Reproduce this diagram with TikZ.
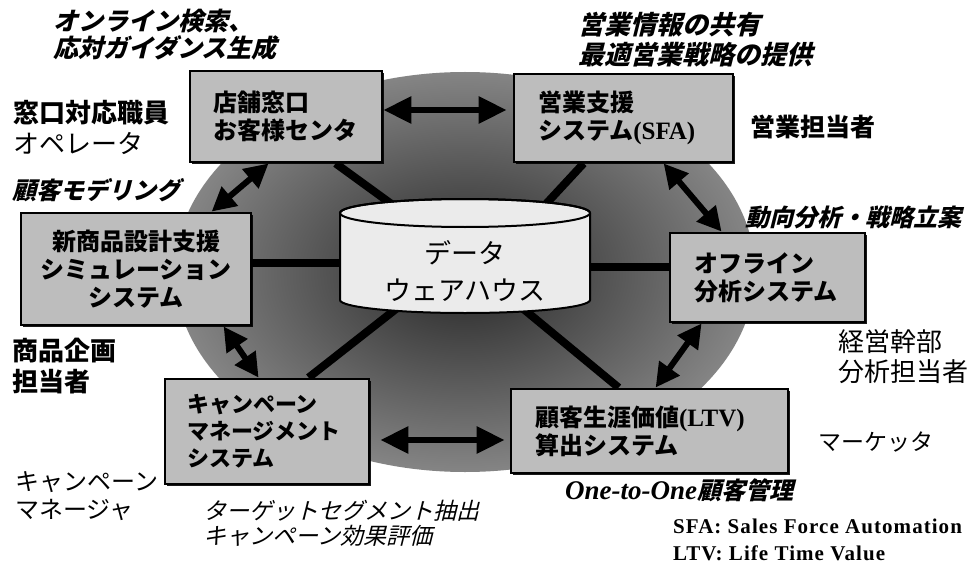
\documentclass[tikz,border=0pt]{standalone}
\usepackage{fontspec}
\usetikzlibrary{arrows.meta,shadows,calc}
\newfontfamily\jp{Noto Sans CJK JP}
\newfontfamily\jpsl{Noto Sans CJK JP}[FakeSlant=0.25]
\newfontfamily\ser{Liberation Serif}
\newfontfamily\serb{Liberation Serif}[LetterSpace=5]
\pgfdeclarelayer{bg}
\pgfdeclarelayer{mid}
\pgfsetlayers{bg,mid,main}
\begin{document}
\begin{tikzpicture}[x=1pt,y=-1pt,
  box/.style={draw=black, line width=2.8pt, fill=black!26, inner sep=0pt, text=black,
    drop shadow={shadow xshift=2pt,shadow yshift=-2pt,opacity=.9,fill=black},
    font=\jp\bfseries\fontsize{24}{28}\selectfont, align=left},
  link/.style={line width=8pt},
  biarrow/.style={line width=6pt,{Triangle[length=28pt,width=26pt]}-{Triangle[length=28pt,width=26pt]}},
  biarrowd/.style={line width=6pt,{Triangle[length=24pt,width=24pt]}-{Triangle[length=24pt,width=24pt]}},
  ann/.style={anchor=west, inner sep=0pt, align=left}]
\useasboundingbox (0,0) rectangle (971,564);
\begin{pgfonlayer}{bg}
  \fill[white] (0,0) rectangle (971,564);
  \shade[inner color=black!85, outer color=black!48] (465,272) ellipse [x radius=290pt, y radius=200pt];
\end{pgfonlayer}

% boxes
\node[box, minimum width=192pt, minimum height=91pt, text width=146pt] (b1) at (286,116.5) {店舗窓口\\お客様センタ};
\node[box, minimum width=219pt, minimum height=88pt, text width=171pt] (b2) at (623.5,118) {営業支援\\システム{\ser\bfseries\fontsize{25}{28}\selectfont(SFA)}};
\node[box, minimum width=230pt, minimum height=112pt, text width=210pt, align=center] (b3) at (136,269) {新商品設計支援\\シミュレーション\\システム};
\node[box, minimum width=195pt, minimum height=89pt, text width=147pt] (b4) at (767.5,277.5) {オフライン\\分析システム};
\node[box, minimum width=204pt, minimum height=105pt, text width=160pt, font=\jp\bfseries\fontsize{22}{27}\selectfont] (b5) at (267,431.5) {キャンペーン\\マネージメント\\システム};
\node[box, minimum width=277pt, minimum height=84pt, text width=229pt] (b6) at (649.5,431) {顧客生涯価値{\ser\bfseries\fontsize{25}{28}\selectfont(LTV)}\\算出システム};

% data warehouse label
\node[font=\jp\fontsize{27}{37}\selectfont, align=center, inner sep=0pt] (dw) at (465,271) {データ\\ウェアハウス};

\begin{pgfonlayer}{mid}
  \draw[link] ([xshift=147pt]b1.south west) -- ($(dw.center)+(-35,-39)$);
  \draw[link] ([xshift=71pt]b2.south west) -- ($(dw.center)+(55,-39)$);
  \draw[link] ([yshift=6pt]b3.east) -- ($(dw.center)+(-65,-8)$);
  \draw[link] ([yshift=10.5pt]b4.west) -- ($(dw.center)+(65,-4)$);
  \draw[link] ([xshift=145pt]b5.north west) -- ($(dw.center)+(-55,27)$);
  \draw[link] ([xshift=109pt]b6.north west) -- ($(dw.center)+(50,31)$);
  \filldraw[fill=black!8, line width=2pt] (340,213) -- (340,300)
     arc[start angle=180, end angle=360, x radius=125pt, y radius=13pt] -- (590,213)
     arc[start angle=0, end angle=180, x radius=125pt, y radius=14pt] -- cycle;
  \draw[line width=2pt] (465,213) ellipse [x radius=125pt, y radius=14pt];
\end{pgfonlayer}

% arrows
\draw[biarrow, shorten >=6pt] ([yshift=6.5pt]b1.east) -- ([yshift=8pt]b2.west);
\draw[biarrowd] ([xshift=80pt]b1.south west) -- ([xshift=192pt]b3.north west);
\draw[biarrowd] ([xshift=151pt]b2.south west) -- ([xshift=53pt]b4.north west);
\draw[biarrowd] ([xshift=204pt]b3.south west) -- ([xshift=95pt]b5.north west);
\draw[biarrowd] ([xshift=33pt]b4.south west) -- ([xshift=146pt]b6.north west);
\draw[biarrow, shorten <=10pt, shorten >=5pt] ([yshift=-8.5pt]b5.east) -- ([yshift=-9pt]b6.west);

% annotations
\node[ann, font=\jpsl\bfseries\fontsize{25}{27}\selectfont] (a1) at (53,35) {オンライン検索、\\応対ガイダンス生成};
\node[ann, font=\jp\fontsize{26}{31}\selectfont] (a2) at (13,127) {{\bfseries 窓口対応職員}\\オペレータ};
\node[ann, font=\jpsl\bfseries\fontsize{24}{28}\selectfont] (a3) at (12,190) {顧客モデリング};
\node[ann, font=\jpsl\bfseries\fontsize{26}{30}\selectfont] (a4) at (578,40) {営業情報の共有\\最適営業戦略の提供};
\node[ann, font=\jp\bfseries\fontsize{25}{30}\selectfont] (a5) at (750,127) {営業担当者};
\node[ann, font=\jpsl\bfseries\fontsize{24}{28}\selectfont] (a6) at (745,217) {動向分析・戦略立案};
\node[ann, font=\jp\bfseries\fontsize{26}{31}\selectfont] (a7) at (12,366) {商品企画\\担当者};
\node[ann, font=\jp\fontsize{26}{30}\selectfont] (a8) at (838,357) {経営幹部\\分析担当者};
\node[ann, font=\jp\fontsize{23}{28}\selectfont] (a9) at (818,442) {マーケッタ};
\node[ann, font=\jp\fontsize{24}{28}\selectfont] (a10) at (15,496) {キャンペーン\\マネージャ};
\node[ann, font=\jpsl\fontsize{23}{25}\selectfont] (a11) at (203,523) {ターゲットセグメント抽出\\キャンペーン効果評価};
\node[ann, font=\jpsl\bfseries\fontsize{24}{28}\selectfont] (a12) at (565,490) {{\ser\bfseries\itshape\fontsize{27}{28}\selectfont One-to-One}顧客管理};
\node[ann, font=\serb\bfseries\fontsize{21}{27}\selectfont] (a13) at (673,540) {SFA: Sales Force Automation\\LTV: Life Time Value};
\end{tikzpicture}
\end{document}
